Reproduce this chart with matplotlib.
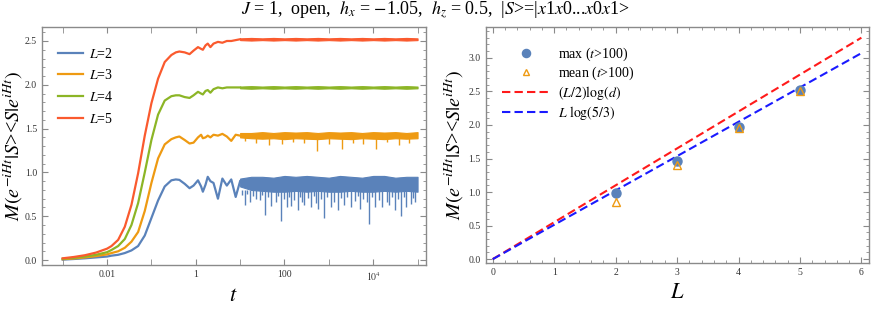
import matplotlib
matplotlib.use("Agg")
import matplotlib.pyplot as plt
import numpy as np
from matplotlib.ticker import FixedLocator, MultipleLocator, NullFormatter

plt.rcParams['font.family'] = ['Liberation Serif', 'DejaVu Serif']
plt.rcParams['mathtext.fontset'] = 'stix'

# ---- left panel: M(t) for L = 2..5 (t given as log10 t) ----
rise_logt = [-3.0, -2.75, -2.5, -2.25, -2.0, -1.9, -1.75, -1.6, -1.45, -1.3, -1.15, -1.0, -0.85,
             -0.7, -0.55, -0.45, -0.37, -0.25, -0.14, -0.05, 0.05, 0.12, 0.16, 0.22, 0.27, 0.33,
             0.4, 0.5, 0.6, 0.7, 0.8, 0.9, 1.0]
rise_L2 = [0.005, 0.012, 0.02, 0.03, 0.04, 0.05, 0.06, 0.08, 0.11, 0.16, 0.28, 0.48, 0.68,
           0.84, 0.91, 0.92, 0.915, 0.87, 0.82, 0.85, 0.91, 0.84, 0.78, 0.86, 0.95, 0.90, 0.88,
           0.70, 0.93, 0.85, 0.92, 0.72, 0.90]
rise_L3 = [0.01, 0.018, 0.03, 0.045, 0.065, 0.08, 0.10, 0.14, 0.21, 0.32, 0.56, 0.88, 1.16,
           1.32, 1.38, 1.40, 1.41, 1.37, 1.33, 1.34, 1.40, 1.43, 1.39, 1.40, 1.42, 1.40, 1.43,
           1.42, 1.44, 1.41, 1.36, 1.43, 1.42]
rise_L4 = [0.015, 0.025, 0.04, 0.06, 0.09, 0.115, 0.16, 0.24, 0.40, 0.65, 1.00, 1.37, 1.66,
           1.82, 1.87, 1.88, 1.88, 1.86, 1.85, 1.88, 1.92, 1.90, 1.89, 1.93, 1.94, 1.91, 1.95,
           1.97, 1.96, 1.97, 1.97, 1.97, 1.97]
rise_L5 = [0.02, 0.035, 0.055, 0.085, 0.13, 0.16, 0.23, 0.38, 0.63, 0.99, 1.42, 1.79, 2.07,
           2.26, 2.34, 2.37, 2.38, 2.37, 2.35, 2.39, 2.43, 2.41, 2.40, 2.45, 2.47, 2.43, 2.47,
           2.49, 2.48, 2.50, 2.50, 2.51, 2.52]

# late-time fluctuation band (upper / lower edge) on a coarse log10 t grid
band_logt = [1.0, 1.25, 1.5, 1.75, 2.0, 2.25, 2.5, 2.75, 3.0, 3.25, 3.5, 3.75, 4.0, 4.25, 4.5,
             4.75, 5.0]
hi_L2 = [0.93, 0.95, 0.95, 0.94, 0.96, 0.95, 0.96, 0.95, 0.94, 0.96, 0.95, 0.94, 0.96, 0.96,
         0.94, 0.95, 0.95]
lo_L2 = [0.84, 0.80, 0.79, 0.78, 0.78, 0.79, 0.78, 0.79, 0.78, 0.78, 0.79, 0.78, 0.78, 0.79,
         0.78, 0.79, 0.78]
hi_L3 = [1.45, 1.45, 1.46, 1.45, 1.46, 1.455, 1.46, 1.45, 1.46, 1.455, 1.46, 1.45, 1.46, 1.455,
         1.46, 1.45, 1.46]
lo_L3 = [1.40, 1.39, 1.385, 1.39, 1.38, 1.39, 1.385, 1.38, 1.39, 1.385, 1.38, 1.39, 1.385, 1.38,
         1.39, 1.385, 1.39]
hi_L4 = [1.98, 1.985, 1.98, 1.985, 1.98, 1.985, 1.98, 1.985, 1.98, 1.985, 1.98, 1.985, 1.98,
         1.985, 1.98, 1.985, 1.98]
lo_L4 = [1.96, 1.955, 1.96, 1.955, 1.96, 1.955, 1.96, 1.955, 1.96, 1.955, 1.96, 1.955, 1.96,
         1.955, 1.96, 1.955, 1.96]
hi_L5 = [2.53, 2.535, 2.53, 2.535, 2.53, 2.535, 2.53, 2.535, 2.53, 2.535, 2.53, 2.535, 2.53,
         2.535, 2.53, 2.535, 2.53]
lo_L5 = [2.51, 2.505, 2.51, 2.505, 2.51, 2.505, 2.51, 2.505, 2.51, 2.505, 2.51, 2.505, 2.51,
         2.505, 2.51, 2.505, 2.51]

# downward excursions below the band (log10 t, value)
dip_logt_L2 = [1.05, 1.1, 1.16, 1.22, 1.3, 1.35, 1.45, 1.5, 1.56, 1.63, 1.7, 1.8, 1.86, 1.92,
               1.98, 2.05, 2.1, 2.15, 2.22, 2.3, 2.36, 2.4, 2.45, 2.53, 2.6, 2.66, 2.7, 2.75,
               2.82, 2.89, 2.95, 3.05, 3.12, 3.2, 3.27, 3.35, 3.42, 3.5, 3.6, 3.65, 3.7, 3.78,
               3.85, 3.91, 3.98, 4.05, 4.12, 4.2, 4.3, 4.35, 4.43, 4.5, 4.56, 4.63, 4.7, 4.75,
               4.85, 4.9, 4.95]
dip_val_L2 = [0.74, 0.63, 0.75, 0.66, 0.73, 0.70, 0.68, 0.74, 0.51, 0.72, 0.62, 0.66, 0.73,
              0.45, 0.70, 0.60, 0.72, 0.62, 0.69, 0.57, 0.72, 0.66, 0.63, 0.71, 0.60, 0.73,
              0.65, 0.58, 0.70, 0.48, 0.72, 0.60, 0.66, 0.57, 0.71, 0.63, 0.72, 0.60, 0.67,
              0.73, 0.58, 0.70, 0.66, 0.41, 0.72, 0.61, 0.69, 0.60, 0.66, 0.63, 0.72, 0.57,
              0.70, 0.50, 0.72, 0.60, 0.64, 0.71, 0.66]
dip_logt_L3 = [1.1, 1.35, 1.64, 1.94, 2.2, 2.45, 2.73, 3.0, 3.3, 3.55, 3.76, 4.06, 4.3, 4.59, 4.8]
dip_val_L3 = [1.36, 1.34, 1.31, 1.33, 1.35, 1.34, 1.24, 1.33, 1.27, 1.34, 1.33, 1.27, 1.35,
              1.31, 1.34]

# ---- right panel ----
L_vals = [2, 3, 4, 5]
max_vals = [0.98, 1.46, 1.97, 2.52]
mean_vals = [0.85, 1.41, 1.96, 2.50]
line_L = [0, 6]
page_line = [0, 3.30]
lsc_line = [0, 3.07]

blue, orange, green, red = '#5A82BA', '#EE9A12', '#8CB526', '#FA5A2E'
frame = '#8A8A8A'
ylab = r'$M(e^{-iHt}|S$><$S|e^{iHt})$'

fig = plt.figure(figsize=(8.72, 3.10), dpi=100)
ax1 = fig.add_axes([0.048, 0.145, 0.440, 0.768])
ax2 = fig.add_axes([0.557, 0.151, 0.440, 0.762])

series = [
    ('2', blue, rise_L2, hi_L2, lo_L2),
    ('3', orange, rise_L3, hi_L3, lo_L3),
    ('4', green, rise_L4, hi_L4, lo_L4),
    ('5', red, rise_L5, hi_L5, lo_L5),
]
t_rise = 10 ** np.array(rise_logt)
t_band = 10 ** np.array(band_logt)
for name, col, rise, hi, lo in series:
    ax1.plot(t_rise, rise, color=col, lw=1.6, label=r'$L$=' + name)
    ax1.fill_between(t_band, lo, hi, color=col, lw=0.8, edgecolor=col)
ax1.vlines(10 ** np.array(dip_logt_L2), dip_val_L2, 0.80, color=blue, lw=1.0)
ax1.vlines(10 ** np.array(dip_logt_L3), dip_val_L3, 1.40, color=orange, lw=1.0)

ax1.set_xscale('log')
ax1.set_xlim(10 ** -3.47, 10 ** 5.18)
ax1.set_ylim(-0.057, 2.66)
ax1.xaxis.set_major_locator(FixedLocator([1e-2, 1, 1e2, 1e4]))
ax1.xaxis.set_minor_locator(FixedLocator([1e-3, 1e-1, 10, 1e3, 1e5]))
ax1.xaxis.set_minor_formatter(NullFormatter())
ax1.set_xticklabels(['0.01', '1', '100', r'$10^4$'])
ax1.yaxis.set_major_locator(MultipleLocator(0.5))
ax1.yaxis.set_minor_locator(MultipleLocator(0.1))
ax1.yaxis.set_major_formatter(matplotlib.ticker.FuncFormatter(lambda v, p: f'{v:.1f}'))
ax1.set_xlabel(r'$t$', fontsize=16, labelpad=3)
ax1.set_ylabel(ylab, fontsize=14.5, labelpad=0)
ax1.legend(loc='upper left', bbox_to_anchor=(0.01, 0.97), frameon=False, fontsize=10,
           handlelength=1.8, handletextpad=0.4, labelspacing=0.55)

ax2.plot(line_L, page_line, color='#FF1A1A', lw=1.5, ls=(0, (4, 2)), label=r'$(L/2)\log(d)$')
ax2.plot(line_L, lsc_line, color='#1A1AFF', lw=1.5, ls=(0, (4, 2)), label=r'$L\ \log(5/3)$')
ax2.plot(L_vals, max_vals, 'o', color=blue, ms=6.5, ls='none', label=r'max ($t$>100)')
ax2.plot(L_vals, mean_vals, '^', color=orange, mfc='none', mew=1.0, ms=5.5, ls='none',
         label=r'mean ($t$>100)')
ax2.set_xlim(-0.114, 6.13)
ax2.set_ylim(-0.06, 3.46)
ax2.xaxis.set_major_locator(MultipleLocator(1))
ax2.xaxis.set_minor_locator(MultipleLocator(0.2))
ax2.yaxis.set_major_locator(MultipleLocator(0.5))
ax2.yaxis.set_minor_locator(MultipleLocator(0.1))
ax2.yaxis.set_major_formatter(matplotlib.ticker.FuncFormatter(lambda v, p: f'{v:.1f}'))
ax2.set_xlabel(r'$L$', fontsize=16, labelpad=5)
ax2.set_ylabel(ylab, fontsize=14.5, labelpad=2)
h, lab = ax2.get_legend_handles_labels()
order = [2, 3, 0, 1]
leg = ax2.legend([h[i] for i in order], [lab[i] for i in order], loc='upper left',
                 bbox_to_anchor=(0.01, 0.975), frameon=False, fontsize=10, handlelength=3.4,
                 handletextpad=0.6, labelspacing=0.15, markerscale=0.9)

for ax in (ax1, ax2):
    for sp in ax.spines.values():
        sp.set_color(frame)
        sp.set_linewidth(1.0)
    ax.tick_params(which='both', direction='in', top=True, right=True, colors=frame,
                   labelcolor='#333333', labelsize=7)
    ax.tick_params(which='major', length=4)
    ax.tick_params(which='minor', length=2)
ax1.tick_params(axis='x', which='minor', length=4)

fig.text(0.5, 0.965, r'$J$ = 1,  open,  $h_x$ = $-$1.05,  $h_z$ = 0.5,  |$S$>=|$x$1$x$0...$x$0$x$1>',
         ha='center', va='center', fontsize=13)

fig.savefig('out.png', dpi=100)
